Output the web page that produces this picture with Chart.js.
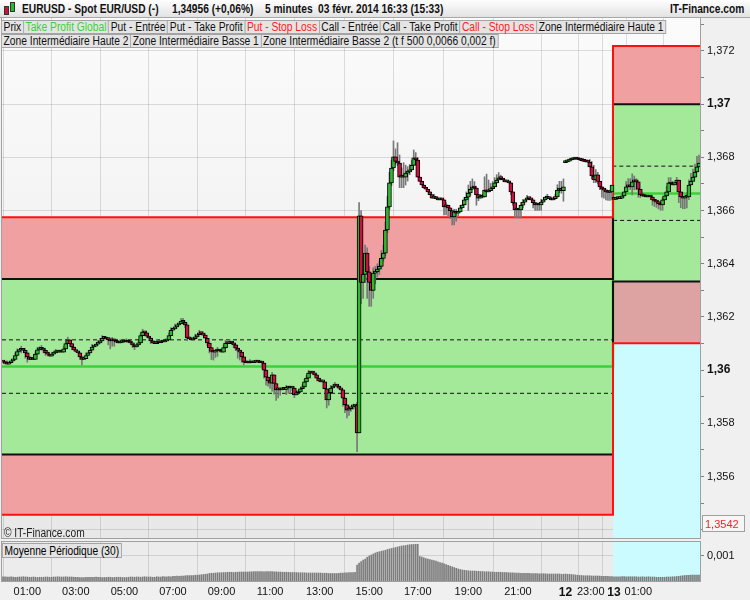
<!DOCTYPE html>
<html><head><meta charset="utf-8">
<script src="https://cdn.jsdelivr.net/npm/chart.js@4/dist/chart.umd.min.js"></script>
<style>
html,body{margin:0;padding:0;background:#f0f0f0;}
body{width:750px;height:600px;position:relative;overflow:hidden;font-family:"Liberation Sans",Arial,sans-serif;}
canvas{position:absolute;left:0;}
#c1{top:0;z-index:1;}
#c2{top:540px;z-index:1;}
#hdr{position:absolute;left:0;top:0;width:750px;height:17px;background:linear-gradient(#fefefe,#e2e2e2);border-bottom:1px solid #a8a8a8;z-index:5;}
.ht{position:absolute;top:2px;font-size:12px;line-height:14px;font-weight:bold;white-space:nowrap;color:#111;transform:scaleX(.85);transform-origin:0 0;}
.row{position:absolute;left:1px;display:flex;z-index:5;transform:scaleX(.855);transform-origin:0 0;}
.lg{height:14px;line-height:13px;font-size:12px;background:#e4e4e4;border:1px solid #a3a3a3;box-sizing:border-box;padding:0 2px;white-space:nowrap;margin-right:-1px;color:#111;}
#copy{position:absolute;left:4px;top:526px;font-size:12px;color:#222;z-index:5;transform:scaleX(.85);transform-origin:0 0;}
#mp{position:absolute;left:2px;top:543px;height:15px;line-height:14px;font-size:12px;background:#e4e4e4;border:1px solid #a3a3a3;box-sizing:border-box;padding:0 2px;z-index:5;transform:scaleX(.85);transform-origin:0 0;}
.ic{position:absolute;border:1px solid #333;box-sizing:border-box;}
</style>
</head><body>
<div id="hdr">
  <div class="ic" style="left:4px;top:6px;width:5px;height:9px;background:#d0103a"></div>
  <div class="ic" style="left:10px;top:2px;width:5px;height:10px;background:#2db82d"></div>
  <span class="ht" style="left:22px">EURUSD - Spot EUR/USD (-)</span>
  <span class="ht" style="left:172px">1,34956 (+0,06%)</span>
  <span class="ht" style="left:265px">5 minutes</span>
  <span class="ht" style="left:318px">03 févr. 2014 16:33 (15:33)</span>
  <span class="ht" style="left:670px">IT-Finance.com</span>
</div>
<div class="row" id="row1" style="top:20px"></div>
<div class="row" id="row2" style="top:34px"></div>
<div id="copy">© IT-Finance.com</div>
<div id="mp">Moyenne Périodique (30)</div>
<canvas id="c1" width="750" height="540"></canvas>
<canvas id="c2" width="750" height="60"></canvas>
<script>
// ---------------- DATA ----------------
const PRICE_BASE = 1.35;   // closes / wicks are given in pips above this base
const PIP = 0.0001;

const legendRow1 = ['Prix','Take Profit Global','Put - Entrée','Put - Take Profit','Put - Stop Loss','Call - Entrée','Call - Take Profit','Call - Stop Loss','Zone Intermédiaire Haute 1'];
const legendRow1Colors = ['#111','#3ccf3c','#111','#111','#ff1a1a','#111','#111','#ff1a1a','#111'];
const legendRow2 = ['Zone Intermédiaire Haute 2','Zone Intermédiaire Basse 1','Zone Intermédiaire Basse 2 (t f 500 0,0066 0,002 f)'];

// time-axis labels (bar position -> label)
const timeTickPos = [12, 36, 60, 84, 108, 132, 156.5, 181, 205, 230, 254.5, 278, 290.5, 302, 314, 339];
const timeTickLabels = ['01:00','03:00','05:00','07:00','09:00','11:00','13:00','15:00','17:00','19:00','21:00','12','23:00','13','01:00',''];

// 5-minute closes (pips above 1.3500)
const closes = [
103,102.5,102.3,102.8,103.5,104,105.5,107,107.5,108,107.5,106.5,
105,104,104.2,104,106,107.6,107.8,108.3,107.5,106.5,106,105.3,
106,106.5,106.8,106.8,107,106.8,108,110,111.4,110,108.7,107.6,
107,106.5,105,104,104.3,105.5,106.5,107.5,108.7,109,109.8,110.2,
111,112,112.1,111.7,111.5,111,111.3,111,110.5,110.2,110.4,110.6,
110.8,110.6,110.5,110.2,109.5,108.7,109.5,110.2,113,114.4,114,112.8,
112.1,111,110.2,110,110.6,110.3,110.8,110.6,111,111.4,113,115,
115.5,116.3,117,117.5,118.5,118,117,112.1,111.8,111.4,111.8,112.5,
113.3,114,113.8,113.2,112,110.2,108.5,107,106.8,107.2,107.6,107.2,
106.8,108.5,110.2,110,110.5,110.2,109.5,108.3,107.5,106.8,105,103,
102.8,102.7,103,102.8,103,103.2,103,102.8,102.7,100,97.4,96,
95.1,98.2,95,92.6,92.8,92.6,93,92.8,93.3,93.6,93.3,93.3,
90.7,91.5,91.8,93,93.7,95.6,97,98.9,99.2,98.9,98.2,97,
96,95.6,95.6,93,88.8,91.5,93.3,94,94.4,94,93.2,92.6,
89.5,87,85,85.5,86.2,86.5,86.9,76.4,158,133,136,144,
137,133,130,136.5,137,138,139,142,144,152.7,161.4,170.4,
176,180.2,178.5,177.9,172.6,173,172.6,174.1,174.5,175.3,177,179.8,
179,172.6,171,169.6,168.5,168,167,166,164.7,165.1,164.5,164,
164.3,164,161.4,162,161,160,157.6,159.5,159,159.5,161,162.1,
164,165,166.6,168,168.9,168.5,166,164.7,165,165.1,167.7,167,
167.5,168.2,168.9,170.4,171.5,172.3,172,171.5,170.8,171,170.4,167,
163,160.2,160.5,160.2,162,163.2,164,164.7,164.5,164,163,162.1,
162.5,162.1,163.2,164,165.1,164.7,164.5,164,164.5,165.1,167.7,168,
167.5,168.9,178.3,178.6,179,179.2,179.4,179.4,179.2,179,178.8,178.5,
178.3,178.2,176.4,173,171.5,173.4,171,168.9,168,167.7,167,166.8,
167,169.6,164.2,164.7,164.5,164.7,165.5,167,168.9,169,168.9,170.8,
171,170.8,168,165.9,165.5,165.3,165.1,165.3,165.1,164,163.5,163.2,
162.6,162.1,164,165.5,167,170.4,170,169.6,170.5,171.5,167,165.1,
164.7,165,165.1,169.6,171,172.6,174.5,176.4,177.9];
const firstOpen = 103.2;
const gapOpens = {278: 178.0, 302: 164.4};   // session gaps: open not equal to previous close

// wick length above / below the body (pips)
const wickUp = [
0,0,1,0,0,0,1,1,0,1,0,0, 0,0,0,0,1,1,1,1,0,0,0,0, 0,0,1,0,0,0,1,1,1,0,0,0, 0,0,0,0,0,1,0,0,1,0,0,1,
1,1,0,0,0,0,1,0,0,0,1,0, 0,1,0,0,0,0,0,1,1,1,0,0, 0,0,0,0,1,0,0,0,0,0,1,1, 0,1,0,0,1,1,0,0,0,0,0,1,
0,1,0,0,0,0,0,0,0,0,1,0, 0,1,1,0,1,0,0,0,0,0,0,0, 0,0,1,0,0,0,0,0,0,0,0,0, 1,1,0,0,0,0,0,0,1,0,0,0,
0,0,0,0,1,1,1,1,0,0,0,0, 0,0,0,0,0,1,1,0,1,0,0,0, 0,0,0,1,0,0,0,1,5,2,2,3, 2,2,2,2,2,2,2,3,3,3,4,4,
3,6,3,7,3,3,5,3,2,2,2,3, 2,1,0,0,0,0,0,0,0,1,0,0, 0,0,0,1,0,0,0,1,1,0,1,0, 1,2,3,3,3,2,0,0,1,1,5,6,
4,2,2,2,2,2,1,0,0,0,0,0, 0,0,0,0,1,1,0,1,0,0,0,0, 0,0,1,0,0,1,0,0,0,1,2,3, 3,3,0,0,0,0,0,0,0,0,0,0,
0,0,1,2,4,2,1,0,0,0,0,0, 0,0,0,0,0,0,1,0,2,3,3,3, 2,1,0,0,0,0,0,0,0,0,0,0, 0,0,1,0,2,2,2,1,0,1,0,0,
0,0,1,2,3,3,3,4,3];
const wickDn = [
0,0,0,0,0,0,0,0,0,1,0,2, 2,0,0,0,0,0,0,0,1,1,0,0, 0,0,0,0,0,0,0,0,0,1,1,0, 0,0,1,2,0,0,0,0,0,0,0,0,
0,0,0,0,2,3,2,2,0,0,0,0, 0,0,0,0,1,1,0,0,0,0,1,0, 0,1,0,0,0,0,0,0,0,0,0,0, 0,0,0,0,0,0,1,1,0,0,0,0,
0,0,0,0,0,1,2,3,3,2,2,0, 0,0,0,0,0,0,1,1,3,3,2,1, 0,0,0,0,0,0,0,0,2,3,3,2, 2,3,4,4,3,2,0,0,2,2,2,1,
1,0,0,0,0,0,0,0,0,0,0,0, 0,0,0,0,3,2,0,0,0,0,0,0, 3,3,3,2,1,1,1,7,0,8,6,3, 10,9,6,3,4,2,2,1,1,1,1,1,
1,1,1,1,4,4,4,3,3,1,0,0, 0,0,0,0,0,0,0,0,0,0,0,0, 0,0,3,3,3,3,3,3,3,1,0,0, 0,0,5,1,0,0,4,1,0,0,0,0,
0,0,0,0,0,0,0,0,0,0,0,1, 1,3,3,3,3,1,0,0,0,0,2,2, 2,2,2,0,0,0,0,0,0,0,0,1, 1,4,0,0,0,0,0,0,0,0,0,0,
0,0,0,1,1,1,1,1,3,3,3,3, 3,3,0,0,0,0,0,0,0,0,1,3, 3,3,3,1,0,0,0,0,0,2,2,2, 2,2,2,0,0,0,0,0,0,0,4,4,
4,4,4,1,0,0,0,0,0];

// "Moyenne Périodique (30)" indicator, units of 0.00001
const avgRange = [
17,17,16,16,17,16,15,15,16,16,17,16, 16,15,15,16,15,14,15,15,15,16,16,15,
15,16,16,17,16,16,16,17,16,16,16,15, 15,15,14,14,14,15,15,15,15,15,16,15,
15,14,14,14,15,15,14,14,15,15,15,14, 14,14,15,16,16,15,16,16,15,16,17,16,
16,16,15,15,17,16,16,18,17,17,18,17, 19,19,20,19,20,20,21,22,22,22,22,23,
23,24,25,26,27,28,30,31,31,32,33,33, 33,34,34,35,35,35,34,35,35,36,36,36,
36,36,37,37,38,38,38,38,38,37,38,38, 38,38,37,37,36,36,35,35,35,35,34,34,
34,34,33,33,33,33,32,32,32,32,32,32, 32,32,31,31,31,30,30,30,30,30,31,32,
32,33,33,34,34,34,35,64,72,78,84,88, 95,100,104,108,112,115,117,119,121,123,126,128,
130,132,134,136,138,140,141,142,144,145,146,146, 147,147,98,96,93,90,88,86,84,82,80,77,
74,72,69,66,63,60,57,54,51,48,46,44, 43,42,41,40,40,40,39,39,38,38,37,37,
37,36,36,35,35,35,35,34,34,34,33,33, 33,32,32,32,31,31,31,31,31,30,30,30,
30,29,29,29,29,28,28,28,28,28,28,28, 27,27,28,27,27,26,25,24,23,22,22,21,
21,21,21,20,20,20,20,20,19,19,19,19, 18,18,17,17,17,17,18,18,17,17,17,17,
17,17,16,16,17,16,16,17,16,16,16,15, 15,15,15,15,16,16,16,17,17,18,19,20,
21,22,23,23,24,24,24,24,24];

// strategy levels: [before the 13 févr. session, after]
const zoneSwitchPos = 301.5;
const callStopLoss   = [1.36575, 1.37219];
const callEntry      = [1.36343, 1.37000];
const zoneHaute      = [1.36114, 1.36767];
const takeProfit     = [1.36014, 1.36664];
const zoneBasse      = [1.35913, 1.36563];
const putEntry       = [1.35683, 1.36333];
const putStopLoss    = [1.35456, 1.36101];
const lastValueTag   = 1.3542;

// price axis
const Y_MIN = 1.35369, Y_MAX = 1.37324;
const priceTicks = [1.354,1.355,1.356,1.357,1.358,1.359,1.360,1.361,1.362,1.363,1.364,1.365,1.366,1.367,1.368,1.369,1.370,1.371,1.372,1.373];
const IND_MAX = 0.00156;
const indTicks = [0.001];

// ---------------- LEGEND (text) ----------------
function addBoxes(id, names, colors){
  const row = document.getElementById(id);
  names.forEach((n,i)=>{const d=document.createElement('div');d.className='lg';d.textContent=n;if(colors)d.style.color=colors[i];row.appendChild(d);});
}
addBoxes('row1', legendRow1, legendRow1Colors);
addBoxes('row2', legendRow2, null);

// ---------------- CHARTS ----------------
Chart.defaults.font.family = '"Liberation Sans",Arial,sans-serif';
Chart.defaults.font.size = 11;
Chart.defaults.color = '#000';

const N = closes.length;
const X_MIN = -0.5, X_MAX = N - 0.5;
const P = v => PRICE_BASE + v * PIP;
const opens = closes.map((c,i)=> i===0 ? firstOpen : (gapOpens[i] !== undefined ? gapOpens[i] : closes[i-1]));

const bodies = closes.map((c,i)=>({x:i, y:[P(opens[i]), P(c)]}));
const bodyColors = closes.map((c,i)=> c >= opens[i] ? '#2db82d' : '#cc1040');
const wicks = closes.map((c,i)=>({x:i, y:[P(Math.min(opens[i],c) - wickDn[i]), P(Math.max(opens[i],c) + wickUp[i])]}));

const stepLine = (lv) => [{x:X_MIN,y:lv[0]},{x:zoneSwitchPos,y:lv[1]},{x:X_MAX,y:lv[1]}];
const leftSeg  = (v) => [{x:X_MIN,y:v},{x:zoneSwitchPos,y:v}];
const rightSeg = (v) => [{x:zoneSwitchPos,y:v},{x:X_MAX,y:v}];

function zoneFill(points, bottom, color){
  return {type:'line', data:points, fill:{value:bottom}, backgroundColor:color, borderWidth:0, pointRadius:0, order:20};
}
function levelLine(levels, color, width, dash, order){
  return {type:'line', data:stepLine(levels), stepped:true, fill:false, borderColor:color, borderWidth:width, borderDash:dash||[], pointRadius:0, order:order};
}

const RED='#f0a0a0', GREEN='#a4e899', DARK='#dda2a2', CYAN='#ccfbff';

const panelBg = {
  id:'panelBg',
  beforeDraw(chart, args, o){
    const {ctx, chartArea:a} = chart;
    ctx.save();
    if(o.gradient){const g=ctx.createLinearGradient(0,a.top,0,a.bottom);g.addColorStop(0,'#fbfbfb');g.addColorStop(1,'#e8e8e8');ctx.fillStyle=g;}
    else ctx.fillStyle=o.color||'#ececec';
    ctx.fillRect(a.left,a.top,a.right-a.left,a.bottom-a.top);
    ctx.restore();
  },
  afterDraw(chart, args, o){
    const {ctx, chartArea:a} = chart;
    ctx.save();
    ctx.strokeStyle='#a0a0a0';ctx.lineWidth=1;
    ctx.strokeRect(a.left-0.5,a.top-0.5,a.right-a.left+1,a.bottom-a.top+1);
    if(o.tag!==undefined){
      const y=Math.round(chart.scales.y.getPixelForValue(o.tag));
      ctx.fillStyle='#f6f6f6';ctx.fillRect(702.5,y-8.5,42,16);
      ctx.strokeStyle='#a0a0a0';ctx.strokeRect(702.5,y-8.5,42,16);
      ctx.fillStyle='#ff2020';ctx.font='11px "Liberation Sans",Arial';ctx.textBaseline='middle';ctx.textAlign='left';
      ctx.fillText(String(o.tag).replace('.',','),705,y+0.5);
    }
    ctx.restore();
  }
};

const isEvenTick = v => Math.round(v*1000) % 2 === 0;
const isRoundTick = v => Math.round(v*1000) % 10 === 0;
const noPad = s => { s.paddingTop = 0; s.paddingBottom = 0; s.paddingLeft = 0; s.paddingRight = 0; };

new Chart(document.getElementById('c1'), {
  type:'bar',
  data:{datasets:[
    zoneFill(rightSeg(putStopLoss[1]), Y_MIN, CYAN),
    zoneFill(leftSeg(callStopLoss[0]), callEntry[0], RED),
    zoneFill(leftSeg(callEntry[0]), putEntry[0], GREEN),
    zoneFill(leftSeg(putEntry[0]), putStopLoss[0], RED),
    zoneFill(rightSeg(callStopLoss[1]), callEntry[1], RED),
    zoneFill(rightSeg(callEntry[1]), putEntry[1], GREEN),
    zoneFill(rightSeg(putEntry[1]), putStopLoss[1], DARK),
    levelLine(zoneHaute, '#111', 1, [4,3], 12),
    levelLine(zoneBasse, '#111', 1, [4,3], 12),
    levelLine(takeProfit, '#3ccf3c', 2.5, null, 11),
    levelLine(callEntry, '#111', 2, null, 10),
    levelLine(putEntry, '#111', 2, null, 10),
    levelLine(callStopLoss, '#ff1010', 2, null, 8),
    levelLine(putStopLoss, '#ff1010', 2, null, 8),
    {type:'bar', data:wicks, backgroundColor:'#787878', borderWidth:0, barThickness:1, grouped:false, order:3},
    {type:'bar', data:bodies, backgroundColor:bodyColors, borderColor:'#000', borderWidth:1, borderSkipped:false, barThickness:4, minBarLength:2, grouped:false, order:2}
  ]},
  options:{
    responsive:false, animation:false, devicePixelRatio:1,
    layout:{padding:{left:2,right:0,top:18,bottom:2}},
    plugins:{legend:{display:false}, tooltip:{enabled:false}, panelBg:{gradient:true, tag:lastValueTag}},
    scales:{
      x:{type:'linear', min:X_MIN, max:X_MAX, offset:false, z:1,
         afterBuildTicks:s=>{s.ticks=timeTickPos.map(v=>({value:v}));},
         afterFit:s=>{s.height=0; noPad(s);},
         ticks:{display:false}, grid:{color:'rgba(110,110,110,0.22)', drawTicks:false}, border:{display:false}},
      y:{position:'right', min:Y_MIN, max:Y_MAX, z:1,
         afterBuildTicks:s=>{s.ticks=priceTicks.map(v=>({value:v}));},
         afterFit:s=>{s.width=50; noPad(s);},
         ticks:{padding:3, color:'#111',
           callback:v=> (isEvenTick(v) && v>1.3545) ? (isRoundTick(v)? v.toFixed(2) : v.toFixed(3)).replace('.',',') : '',
           font:c=>({size: (c.tick && isRoundTick(c.tick.value)) ? 12 : 11, weight: (c.tick && isRoundTick(c.tick.value)) ? 'bold':'normal'})},
         grid:{color:c=> (c.tick && isEvenTick(c.tick.value)) ? 'rgba(110,110,110,0.22)' : 'rgba(0,0,0,0)', tickColor:'#808080', tickLength:4},
         border:{display:true, color:'#9a9a9a'}}
    }
  },
  plugins:[panelBg]
});

new Chart(document.getElementById('c2'), {
  type:'bar',
  data:{datasets:[
    {type:'line', data:[{x:zoneSwitchPos,y:IND_MAX},{x:X_MAX,y:IND_MAX}], fill:'start', backgroundColor:CYAN, borderWidth:0, pointRadius:0, order:20},
    {type:'bar', data:avgRange.map((v,i)=>({x:i,y:v*0.00001})), backgroundColor:'#7d7d7d', borderWidth:0, barThickness:1, grouped:false, order:2}
  ]},
  options:{
    responsive:false, animation:false, devicePixelRatio:1,
    layout:{padding:{left:2,right:0,top:2,bottom:0}},
    plugins:{legend:{display:false}, tooltip:{enabled:false}, panelBg:{color:'#ececec'}},
    scales:{
      x:{type:'linear', min:X_MIN, max:X_MAX, offset:false, z:1,
         afterBuildTicks:s=>{s.ticks=timeTickPos.map(v=>({value:v}));},
         afterFit:s=>{s.height=19; noPad(s);},
         ticks:{padding:4, maxRotation:0, autoSkip:false, color:'#111',
           callback:(v,i)=>timeTickLabels[i],
           font:c=>{const l=timeTickLabels[c.index]; const b=(l==='12'||l==='13'); return {size:b?12:11, weight:b?'bold':'normal'};}},
         grid:{color:'rgba(110,110,110,0.22)', drawTicks:false}, border:{display:false}},
      y:{position:'right', min:0, max:IND_MAX, z:1,
         afterBuildTicks:s=>{s.ticks=indTicks.map(v=>({value:v}));},
         afterFit:s=>{s.width=50; noPad(s);},
         ticks:{padding:3, color:'#111', callback:v=>String(v).replace('.',',')},
         grid:{color:'rgba(110,110,110,0.22)', tickColor:'#808080', tickLength:4},
         border:{display:true, color:'#9a9a9a'}}
    }
  },
  plugins:[panelBg]
});
</script>
</body></html>
